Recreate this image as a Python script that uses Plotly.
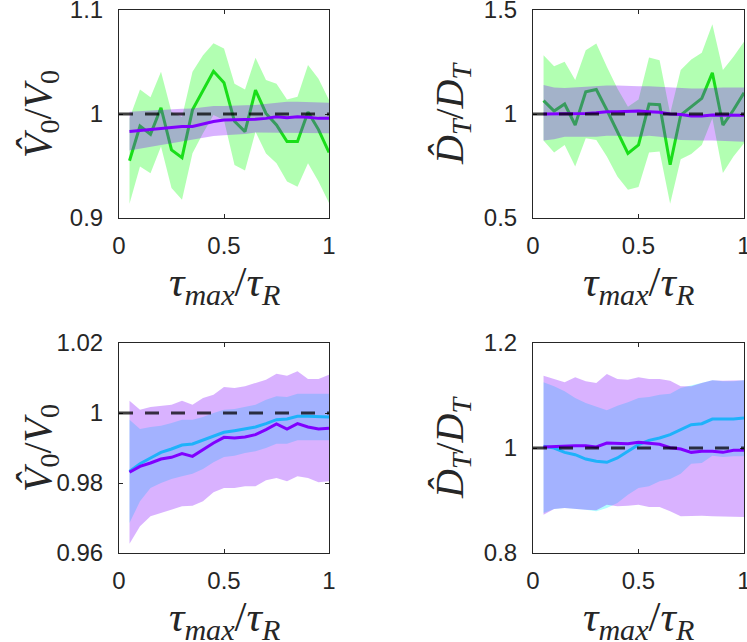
"""
Estimator ratios vs tau_max / tau_R (four panels)
"""
import plotly.graph_objects as go
from plotly.subplots import make_subplots

tau = [0.05, 0.1, 0.15, 0.2, 0.25, 0.3, 0.35, 0.4, 0.45, 0.5,
       0.55, 0.6, 0.65, 0.7, 0.75, 0.8, 0.85, 0.9, 0.95, 1.0]

# top-left: V0 hat / V0
v0_green = [0.955, 0.9885, 0.9805, 1.006, 0.9655, 0.958, 1.004, 1.023, 1.041, 1.030,
            0.993, 0.983, 1.023, 1.0005, 0.9895, 0.9735, 0.9735, 1.002, 0.985, 0.963]
v0_green_hi = [0.996, 1.0236, 1.016, 1.0406, 1.002, 0.997, 1.0406, 1.0565, 1.068, 1.063,
               1.029, 1.0236, 1.054, 1.0326, 1.029, 1.014, 1.0166, 1.047, 1.034, 1.0134]
v0_green_lo = [0.9137, 0.9495, 0.943, 0.9687, 0.9288, 0.9176, 0.9623, 0.9815, 0.999, 0.994,
               0.951, 0.9457, 0.983, 0.962, 0.9527, 0.935, 0.930, 0.9527, 0.935, 0.9144]
v0_purple = [0.9831, 0.984, 0.9853, 0.9863, 0.9872, 0.9879, 0.9879, 0.9904, 0.9927, 0.9942,
             0.9942, 0.9942, 0.9949, 0.9958, 0.9974, 0.9965, 0.9974, 0.9968, 0.9958, 0.9958]
v0_purple_hi = [1.0022, 1.0029, 1.0032, 1.0038, 1.0045, 1.0051, 1.0054, 1.0064, 1.0077, 1.0077,
                1.0077, 1.0083, 1.0086, 1.0096, 1.0102, 1.0118, 1.0118, 1.0115, 1.0112, 1.0109]
v0_purple_lo = [0.9649, 0.9668, 0.9687, 0.9703, 0.9719, 0.9732, 0.9751, 0.977, 0.9789, 0.9796,
                0.9799, 0.9808, 0.9821, 0.9821, 0.9821, 0.9815, 0.9815, 0.9815, 0.9815, 0.9815]

# top-right: DT hat / DT
dt_green = [1.064, 1.014, 1.048, 0.947, 1.107, 1.118, 1.019, 0.915, 0.811, 0.851,
            1.048, 1.045, 0.756, 0.995, 1.035, 1.075, 1.198, 0.947, 1.019, 1.102]
dt_green_hi = [1.283, 1.230, 1.251, 1.163, 1.307, 1.339, 1.227, 1.123, 1.035, 1.070,
               1.272, 1.259, 1.003, 1.211, 1.262, 1.294, 1.431, 1.211, 1.275, 1.347]
dt_green_lo = [0.872, 0.815, 0.851, 0.748, 0.883, 0.875, 0.796, 0.700, 0.636, 0.649,
               0.815, 0.820, 0.569, 0.783, 0.808, 0.851, 0.979, 0.716, 0.796, 0.859]
dt_purple = [1.000, 1.000, 1.000, 1.000, 1.003, 1.006, 1.011, 1.011, 1.014, 1.014,
             1.011, 1.008, 1.000, 0.998, 0.990, 0.990, 0.995, 0.995, 0.995, 0.994]
dt_purple_hi = [1.139, 1.128, 1.125, 1.128, 1.134, 1.134, 1.137, 1.137, 1.134, 1.134,
                1.134, 1.131, 1.128, 1.128, 1.123, 1.123, 1.126, 1.128, 1.128, 1.128]
dt_purple_lo = [0.872, 0.879, 0.891, 0.891, 0.891, 0.891, 0.895, 0.895, 0.891, 0.891,
                0.895, 0.891, 0.883, 0.875, 0.875, 0.872, 0.872, 0.872, 0.869, 0.867]

# bottom-left: V0 hat / V0
v0b_cyan = [0.98333, 0.98552, 0.98714, 0.98876, 0.98971, 0.99086, 0.99114, 0.99219, 0.99333, 0.99448,
            0.99495, 0.99543, 0.996, 0.99695, 0.9981, 0.99829, 0.99905, 0.99905, 0.99895, 0.99886]
v0b_cyan_hi = [0.9981, 0.99543, 0.996, 0.99638, 0.99714, 0.9981, 0.9981, 0.99886, 1.0, 1.00095,
               1.00114, 1.00171, 1.00238, 1.00381, 1.00476, 1.00457, 1.00552, 1.00552, 1.00552, 1.00552]
v0b_cyan_lo = [0.96857, 0.97476, 0.97857, 0.98, 0.98114, 0.9819, 0.98267, 0.984, 0.9859, 0.98743,
               0.98781, 0.98857, 0.98905, 0.99, 0.99124, 0.99124, 0.99219, 0.99219, 0.99219, 0.99219]
v0b_purple = [0.98305, 0.98476, 0.98571, 0.98686, 0.98733, 0.98838, 0.98762, 0.98952, 0.99143, 0.99305,
              0.99286, 0.99314, 0.99381, 0.99524, 0.99686, 0.99543, 0.99695, 0.996, 0.99543, 0.99562]
v0b_purple_hi = [1.00352, 1.00095, 1.00171, 1.0021, 1.00238, 1.00352, 1.00238, 1.00429, 1.00524, 1.00743,
                 1.00714, 1.00762, 1.00857, 1.00952, 1.01124, 1.01067, 1.0119, 1.00971, 1.00971, 1.01095]
v0b_purple_lo = [0.96267, 0.96762, 0.97048, 0.97143, 0.97238, 0.97333, 0.97352, 0.97476, 0.97733, 0.97857,
                 0.97857, 0.97905, 0.97905, 0.98076, 0.98143, 0.98048, 0.9819, 0.98143, 0.98019, 0.98048]

# bottom-right: DT hat / DT
dtb_cyan = [1.0032, 1.0, 0.9917, 0.9873, 0.979, 0.9746, 0.9727, 0.981, 0.9937, 1.0063,
            1.0146, 1.019, 1.0254, 1.0349, 1.0444, 1.0463, 1.0552, 1.0552, 1.0552, 1.0571]
dtb_cyan_hi = [1.1251, 1.1175, 1.1079, 1.0952, 1.0857, 1.0781, 1.0717, 1.0806, 1.087, 1.0952,
               1.0971, 1.1016, 1.1035, 1.1143, 1.1187, 1.1238, 1.1289, 1.127, 1.127, 1.1289]
dtb_cyan_lo = [0.8762, 0.8838, 0.8857, 0.8838, 0.8825, 0.8794, 0.8857, 0.8952, 0.9111, 0.9238,
               0.927, 0.9365, 0.941, 0.9511, 0.9702, 0.9714, 0.9854, 0.9829, 0.9841, 0.9841]
dtb_purple = [1.0019, 1.0032, 1.0032, 1.0044, 1.0044, 1.0019, 1.0095, 1.0083, 1.0083, 1.0108,
              1.0083, 1.007, 1.0006, 0.9981, 0.9917, 0.9937, 0.9937, 0.9917, 0.9956, 0.9956]
dtb_purple_hi = [1.1378, 1.1314, 1.1251, 1.1346, 1.127, 1.1238, 1.141, 1.1314, 1.1302, 1.1346,
                 1.1314, 1.1314, 1.1283, 1.1175, 1.1175, 1.1238, 1.1289, 1.1283, 1.1283, 1.1289]
dtb_purple_lo = [0.873, 0.8838, 0.8857, 0.8838, 0.8825, 0.8813, 0.8921, 0.8889, 0.8902, 0.8921,
                 0.8876, 0.8876, 0.8794, 0.8698, 0.8698, 0.8711, 0.8698, 0.8686, 0.8686, 0.8686]

GREEN = 'rgb(25,222,25)'
GREEN_FILL = 'rgba(0,255,0,0.3)'
CYAN = 'rgb(30,178,250)'
CYAN_FILL = 'rgba(0,255,255,0.3)'
PURPLE = 'rgb(128,0,255)'
PURPLE_FILL = 'rgba(128,0,255,0.3)'
AXIS = 'rgb(38,38,38)'


def band(fig, hi, lo, color, row, col):
    fig.add_trace(go.Scatter(x=tau + tau[::-1], y=hi + lo[::-1], fill='toself',
                             fillcolor=color, line=dict(width=0), mode='lines',
                             hoverinfo='skip'), row=row, col=col)


def line(fig, y, color, row, col):
    fig.add_trace(go.Scatter(x=tau, y=y, mode='lines',
                             line=dict(color=color, width=3)), row=row, col=col)


fig = make_subplots(rows=2, cols=2)

# top row: green then purple on top
band(fig, v0_green_hi, v0_green_lo, GREEN_FILL, 1, 1)
line(fig, v0_green, GREEN, 1, 1)
band(fig, v0_purple_hi, v0_purple_lo, PURPLE_FILL, 1, 1)
line(fig, v0_purple, PURPLE, 1, 1)

band(fig, dt_green_hi, dt_green_lo, GREEN_FILL, 1, 2)
line(fig, dt_green, GREEN, 1, 2)
band(fig, dt_purple_hi, dt_purple_lo, PURPLE_FILL, 1, 2)
line(fig, dt_purple, PURPLE, 1, 2)

# bottom row: cyan and purple
band(fig, v0b_cyan_hi, v0b_cyan_lo, CYAN_FILL, 2, 1)
band(fig, v0b_purple_hi, v0b_purple_lo, PURPLE_FILL, 2, 1)
line(fig, v0b_cyan, CYAN, 2, 1)
line(fig, v0b_purple, PURPLE, 2, 1)

band(fig, dtb_cyan_hi, dtb_cyan_lo, CYAN_FILL, 2, 2)
band(fig, dtb_purple_hi, dtb_purple_lo, PURPLE_FILL, 2, 2)
line(fig, dtb_cyan, CYAN, 2, 2)
line(fig, dtb_purple, PURPLE, 2, 2)

for r in (1, 2):
    for c in (1, 2):
        fig.add_hline(y=1, line=dict(color='rgba(0,0,0,0.75)', width=3, dash='14px,12px'),
                      row=r, col=c)

axis_style = dict(showgrid=False, zeroline=False, showline=True, mirror='ticks',
                  linecolor=AXIS, linewidth=1, ticks='inside', ticklen=4, automargin=False,
                  ticklabeloverflow='allow', tickcolor=AXIS,
                  tickfont=dict(family='Liberation Sans', size=24, color=AXIS))
fig.update_xaxes(**axis_style, range=[0, 1], tickvals=[0, 0.5, 1],
                 ticktext=['0', '0.5', '1'], ticklabelstandoff=6)
fig.update_yaxes(**axis_style, ticklabelstandoff=10)

fig.update_yaxes(range=[0.9, 1.1], tickvals=[0.9, 1, 1.1], ticktext=['0.9', '1', '1.1'], row=1, col=1)
fig.update_yaxes(range=[0.5, 1.5], tickvals=[0.5, 1, 1.5], ticktext=['0.5', '1', '1.5'], row=1, col=2)
fig.update_yaxes(range=[0.96, 1.02], tickvals=[0.96, 0.98, 1, 1.02],
                 ticktext=['0.96', '0.98', '1', '1.02'], row=2, col=1)
fig.update_yaxes(range=[0.8, 1.2], tickvals=[0.8, 1, 1.2], ticktext=['0.8', '1', '1.2'], row=2, col=2)

W, H = 747, 642
xl = [119 / W, 329 / W]
xr = [533 / W, 744 / W]
yt = [1 - 218 / H, 1 - 10 / H]
yb = [1 - 553 / H, 1 - 343 / H]
fig.update_layout(
    xaxis=dict(domain=xl), xaxis2=dict(domain=xr), xaxis3=dict(domain=xl), xaxis4=dict(domain=xr),
    yaxis=dict(domain=yt), yaxis2=dict(domain=yt), yaxis3=dict(domain=yb), yaxis4=dict(domain=yb),
)

xtitle = '<i>τ</i><sub><i>max</i></sub>/<i>τ</i><sub><i>R</i></sub>'
v_title = '<i>V̂</i><sub>0</sub>/<i>V</i><sub>0</sub>'
d_title = '<i>D̂</i><sub><i>T</i></sub>/<i>D</i><sub><i>T</i></sub>'
for xc, yc, txt in [(224, 285, xtitle), (638, 285, xtitle), (224, 620, xtitle), (638, 620, xtitle)]:
    fig.add_annotation(x=xc / W, y=1 - yc / H, xref='paper', yref='paper', text=txt,
                       showarrow=False, font=dict(family='Liberation Serif', size=43, color=AXIS),
                       xanchor='center', yanchor='middle')
for xc, yc, txt in [(40, 114, v_title), (452, 114, d_title), (40, 448, v_title), (452, 448, d_title)]:
    fig.add_annotation(x=xc / W, y=1 - yc / H, xref='paper', yref='paper', text=txt,
                       showarrow=False, font=dict(family='Liberation Serif', size=40, color=AXIS),
                       textangle=-90, xanchor='center', yanchor='middle')

fig.update_layout(width=W, height=H, margin=dict(l=0, r=0, t=0, b=0),
                  plot_bgcolor='white', paper_bgcolor='white', showlegend=False)
# page body has a default 8px margin; drop it so the figure fills the window
fig.write_html("out.html", config={'displayModeBar': False},
               post_script="document.body.style.margin='0';")
